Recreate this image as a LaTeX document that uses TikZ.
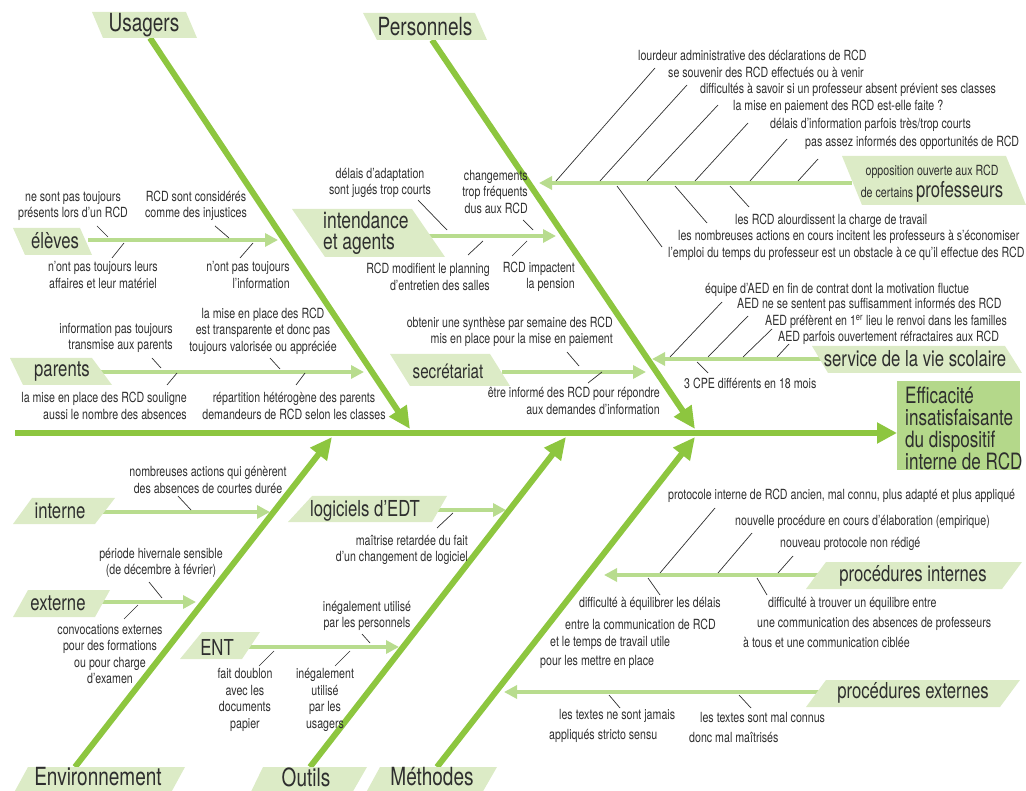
\documentclass[tikz,border=0pt]{standalone}
\usepackage{fontspec}
\setmainfont{TeX Gyre Heros}[FakeStretch=0.76]
\usetikzlibrary{arrows.meta}
\definecolor{bonegreen}{HTML}{8DC63F}
\definecolor{subgreen}{HTML}{B8DC8E}
\definecolor{tagfill}{HTML}{DCEBC6}
\definecolor{effectfill}{HTML}{B4D88A}
\definecolor{ink}{HTML}{2E2E2E}
\tikzset{
  spine/.style={draw=bonegreen, line width=6pt, -{Triangle[length=20pt,width=20pt]}},
  bone/.style={draw=bonegreen, line width=6pt, -{Triangle[length=22pt,width=20pt]}},
  subbone/.style={draw=subgreen, line width=4.5pt, -{Triangle[length=13pt,width=13pt]}},
  tick/.style={draw=ink, line width=0.7pt},
  tag/.style={fill=tagfill},
  small/.style={font=\fontsize{14}{16.5}\selectfont, text=ink, inner sep=0pt},
  cat/.style={font=\fontsize{22}{22}\selectfont, text=ink, inner sep=0pt},
  maincat/.style={font=\fontsize{25}{25}\selectfont, text=ink, inner sep=0pt},
  effecttext/.style={font=\fontsize{22.5}{22}\selectfont, text=ink, inner sep=0pt, align=left},
}
\begin{document}
\begin{tikzpicture}[x=1pt,y=-1pt]
\useasboundingbox (0,0) rectangle (1026,791);
\clip (0,0) rectangle (1026,791);

% ---------- effect and spine ----------
\fill[effectfill] (897,381) rectangle (1020,470);
\node[effecttext, anchor=west] (effect) at (905,428) {Efficacité\\insatisfaisante\\du dispositif\\interne de RCD};
\coordinate (spine-tail) at (15,433);
\coordinate (spine-head) at (897,433);
\draw[spine] (spine-tail) -- (spine-head);

% ---------- main bones ----------
\coordinate (usagers-root) at (150,38);     \coordinate (usagers-tip) at (410,429);
\coordinate (personnels-root) at (432,40);  \coordinate (personnels-tip) at (695,429);
\coordinate (env-root) at (75,767);         \coordinate (env-tip) at (332,437);
\coordinate (outils-root) at (310,767);     \coordinate (outils-tip) at (566,437);
\coordinate (methodes-root) at (437,767);   \coordinate (methodes-tip) at (695,437);
\draw[bone] (usagers-root) -- (usagers-tip);
\draw[bone] (personnels-root) -- (personnels-tip);
\draw[bone] (env-root) -- (env-tip);
\draw[bone] (outils-root) -- (outils-tip);
\draw[bone] (methodes-root) -- (methodes-tip);

% ---------- secondary bones ----------
\coordinate (eleves-root) at (88,240);     \coordinate (eleves-tip) at (278,240);
\coordinate (parents-root) at (100,372);   \coordinate (parents-tip) at (364,372);
\coordinate (intend-root) at (428,236);    \coordinate (intend-tip) at (556,236);
\coordinate (secr-root) at (502,372);      \coordinate (secr-tip) at (646,372);
\coordinate (prof-root) at (852,183);      \coordinate (prof-tip) at (539,183);
\coordinate (vie-root) at (822,359);       \coordinate (vie-tip) at (652,359);
\coordinate (interne-root) at (103,512);   \coordinate (interne-tip) at (270,512);
\coordinate (externe-root) at (98,602);    \coordinate (externe-tip) at (196,602);
\coordinate (edt-root) at (433,510);       \coordinate (edt-tip) at (506,510);
\coordinate (ent-root) at (247,647);       \coordinate (ent-tip) at (399,647);
\coordinate (pint-root) at (820,575);      \coordinate (pint-tip) at (604,575);
\coordinate (pext-root) at (820,692);      \coordinate (pext-tip) at (504,692);
\foreach \b in {eleves,parents,intend,secr,prof,vie,interne,externe,edt,ent,pint,pext}
  \draw[subbone] (\b-root) -- (\b-tip);

% ---------- category tags ----------
\fill[tag] (92,12) -- (186,12) -- (197,38) -- (103,38) -- cycle;
\fill[tag] (363,13) -- (475,13) -- (487,40) -- (377,40) -- cycle;
\fill[tag] (28,767) -- (185,767) -- (167,800) -- (10,800) -- cycle;
\fill[tag] (263,767) -- (367,767) -- (348,800) -- (247,800) -- cycle;
\fill[tag] (380,767) -- (497,767) -- (478,800) -- (362,800) -- cycle;
\fill[tag] (13,228) -- (80,228) -- (92,255) -- (25,255) -- cycle;
\fill[tag] (10,358) -- (92,358) -- (112,385) -- (23,385) -- cycle;
\fill[tag] (292,209) -- (412,209) -- (445,257) -- (325,257) -- cycle;
\fill[tag] (390,354) -- (490,354) -- (510,386) -- (410,386) -- cycle;
\fill[tag] (842,156) -- (1006,156) -- (1026,205) -- (862,205) -- cycle;
\fill[tag] (812,346) -- (1005,346) -- (1022,373) -- (828,373) -- cycle;
\fill[tag] (32,498) -- (115,498) -- (95,524) -- (13,524) -- cycle;
\fill[tag] (28,590) -- (110,590) -- (95,617) -- (13,617) -- cycle;
\fill[tag] (312,496) -- (447,496) -- (432,522) -- (288,522) -- cycle;
\fill[tag] (202,632) -- (260,632) -- (242,659) -- (180,659) -- cycle;
\fill[tag] (826,562) -- (1022,562) -- (1002,589) -- (806,589) -- cycle;
\fill[tag] (826,680) -- (1020,680) -- (1000,707) -- (806,707) -- cycle;

\node[maincat] (usagers) at (144,25) {Usagers};
\node[maincat] (personnels) at (425,27) {Personnels};
\node[maincat] (environnement) at (98,777) {Environnement};
\node[maincat] (outils) at (306,777) {Outils};
\node[maincat] (methodes) at (432,777) {Méthodes};
\node[cat] (eleves) at (55,241) {élèves};
\node[cat] (parents) at (62,372) {parents};
\node[cat, align=left, anchor=west, font=\fontsize{23}{21}\selectfont] (intendance) at (323,233) {intendance\\et agents};
\node[cat, font=\fontsize{20}{20}\selectfont] (secretariat) at (448,371) {secrétariat};
\node[small, anchor=base] (prof-a) at (932,176) {opposition ouverte aux RCD};
\node[small, anchor=base] (prof-b) at (932,198) {de certains {\fontsize{22}{22}\selectfont professeurs}};
\node[cat] (vie) at (915,359) {service de la vie scolaire};
\node[cat] (interne) at (60,511) {interne};
\node[cat] (externe) at (58,603) {externe};
\node[cat] (edt) at (365,511) {logiciels d'EDT};
\node[cat] (ent) at (217,647) {ENT};
\node[cat] (pint) at (913,576) {procédures internes};
\node[cat] (pext) at (913,693) {procédures externes};

% ---------- Usagers: élèves ----------
\node[small, align=center] (el1) at (73,206) {ne sont pas toujours\\présents lors d’un RCD};
\node[small, align=center] (el2) at (196,206) {RCD sont considérés\\comme des injustices};
\node[small, align=center] (el3) at (103,275) {n'ont pas toujours leurs\\affaires et leur matériel};
\node[small, align=right, anchor=east] (el4) at (290,275) {n'ont pas toujours\\l’information};
\draw[tick] (97,226) -- (108,237);
\draw[tick] (215,226) -- (229,238);
\draw[tick] (112,258) -- (124,243);
\draw[tick] (240,258) -- (253,243);

% ---------- Usagers: parents ----------
\node[small, align=right, anchor=east] (pa1) at (173,338) {information pas toujours\\transmise aux parents};
\node[small, align=center] (pa2) at (263,331) {la mise en place des RCD\\est transparente et donc pas\\toujours valorisée ou appréciée};
\node[small, align=right, anchor=east] (pa3) at (187,406) {la mise en place des RCD souligne\\aussi le nombre des absences};
\node[small, align=center] (pa4) at (294,406) {répartition hétérogène des parents\\demandeurs de RCD selon les classes};
\draw[tick] (152,358) -- (161,368);
\draw[tick] (270,358) -- (280,369);
\draw[tick] (167,385) -- (177,373);
\draw[tick] (296,385) -- (305,373);

% ---------- Personnels: intendance et agents ----------
\node[small, align=center] (in1) at (380,183) {délais d’adaptation\\sont jugés trop courts};
\node[small, align=right, anchor=east] (in2) at (528,192) {changements\\trop fréquents\\dus aux RCD};
\node[small, align=right, anchor=east] (in3) at (490,277) {RCD modifient le planning\\d’entretien des salles};
\node[small, align=right, anchor=east] (in4) at (575,277) {RCD impactent\\la pension};
\draw[tick] (418,200) -- (447,230);
\draw[tick] (523,220) -- (533,230);
\draw[tick] (468,255) -- (483,241);
\draw[tick] (512,256) -- (527,241);

% ---------- Personnels: secrétariat ----------
\node[small, align=right, anchor=east] (se1) at (613,332) {obtenir une synthèse par semaine des RCD\\mis en place pour la mise en paiement};
\node[small, align=right, anchor=east] (se2) at (660,401) {être informé des RCD pour répondre\\aux demandes d’information};
\draw[tick] (567,352) -- (579,366);
\draw[tick] (588,383) -- (602,372);

% ---------- Personnels: professeurs ----------
\node[small, anchor=west] (pr1) at (638,55) {lourdeur administrative des déclarations de RCD};
\node[small, anchor=west] (pr2) at (668,72) {se souvenir des RCD effectués ou à venir};
\node[small, anchor=west] (pr3) at (700,90) {difficultés à savoir si un professeur absent prévient ses classes};
\node[small, anchor=west] (pr4) at (733,107) {la mise en paiement des RCD est-elle faite ?};
\node[small, anchor=west] (pr5) at (770,125) {délais d’information parfois très/trop courts};
\node[small, anchor=west] (pr6) at (805,143) {pas assez informés des opportunités de RCD};
\node[small, anchor=west] (pr7) at (735,221) {les RCD alourdissent la charge de travail};
\node[small, anchor=west] (pr8) at (678,237) {les nombreuses actions en cours incitent les professeurs à s’économiser};
\node[small, anchor=west] (pr9) at (668,254) {l’emploi du temps du professeur est un obstacle à ce qu’il effectue des RCD};
\draw[tick] (556,181) -- (655,68);
\draw[tick] (600,181) -- (687,85);
\draw[tick] (647,181) -- (718,105);
\draw[tick] (695,181) -- (748,123);
\draw[tick] (750,181) -- (787,139);
\draw[tick] (798,181) -- (818,159);
\draw[tick] (617,186) -- (662,247);
\draw[tick] (675,186) -- (707,223);
\draw[tick] (730,186) -- (749,207);

% ---------- Personnels: vie scolaire ----------
\node[small, anchor=west] (vs1) at (705,290) {équipe d’AED en fin de contrat dont la motivation fluctue};
\node[small, anchor=west] (vs2) at (737,305) {AED ne se sentent pas suffisamment informés des RCD};
\node[small, anchor=west] (vs3) at (765,322) {AED préfèrent en 1\textsuperscript{er} lieu le renvoi dans les familles};
\node[small, anchor=west] (vs4) at (778,338) {AED parfois ouvertement réfractaires aux RCD};
\node[small, anchor=west] (vs5) at (684,383) {3 CPE différents en 18 mois};
\draw[tick] (670,357) -- (722,302);
\draw[tick] (708,357) -- (748,316);
\draw[tick] (743,357) -- (772,329);
\draw[tick] (777,357) -- (789,344);
\draw[tick] (697,362) -- (708,373);

% ---------- Environnement ----------
\node[small, align=center] (en1) at (208,480) {nombreuses actions qui génèrent\\des absences de courtes durée};
\draw[tick] (178,496) -- (191,510);
\node[small, align=center] (en2) at (161,563) {période hivernale sensible\\(de décembre à février)};
\draw[tick] (149,582) -- (162,598);
\node[small, align=center] (en3) at (110,654) {convocations externes\\pour des formations\\ou pour charge\\d’examen};
\draw[tick] (138,605) -- (124,619);

% ---------- Outils ----------
\node[small, align=right, anchor=east] (ou1) at (468,550) {maîtrise retardée du fait\\d’un changement de logiciel};
\draw[tick] (453,513) -- (437,528);
\node[small, align=center] (ou2) at (367,616) {inégalement utilisé\\par les personnels};
\draw[tick] (362,634) -- (370,643);
\node[small, align=center] (ou3) at (245,700) {fait doublon\\avec les\\documents\\papier};
\draw[tick] (274,651) -- (259,666);
\node[small, align=center] (ou4) at (325,700) {inégalement\\utilisé\\par les\\usagers};
\draw[tick] (350,651) -- (335,666);

% ---------- Méthodes: procédures internes ----------
\node[small, anchor=west] (mi1) at (668,496) {protocole interne de RCD ancien, mal connu, plus adapté et plus appliqué};
\node[small, anchor=west] (mi2) at (735,522) {nouvelle procédure en cours d’élaboration (empirique)};
\node[small, anchor=west] (mi3) at (780,544) {nouveau protocole non rédigé};
\node[small, anchor=west] (mi4) at (579,604) {difficulté à équilibrer les délais};
\node[small, anchor=west] (mi5) at (565,624) {entre la communication de RCD};
\node[small, anchor=west] (mi6) at (550,643) {et le temps de travail utile};
\node[small, anchor=west] (mi7) at (540,662) {pour les mettre en place};
\node[small, anchor=west] (mi8) at (768,604) {difficulté à trouver un équilibre entre};
\node[small, anchor=west] (mi9) at (757,624) {une communication des absences de professeurs};
\node[small, anchor=west] (mi10) at (743,643) {à tous et une communication ciblée};
\draw[tick] (660,573) -- (715,508);
\draw[tick] (718,573) -- (752,533);
\draw[tick] (778,573) -- (793,556);
\draw[tick] (648,578) -- (660,595);
\draw[tick] (757,578) -- (767,595);

% ---------- Méthodes: procédures externes ----------
\node[small, anchor=west] (me1) at (559,716) {les textes ne sont jamais};
\node[small, anchor=west] (me2) at (549,736) {appliqués stricto sensu};
\node[small, anchor=west] (me3) at (700,717) {les textes sont mal connus};
\node[small, anchor=west] (me4) at (689,737) {donc mal maîtrisés};
\draw[tick] (609,695) -- (620,708);
\draw[tick] (739,695) -- (751,708);
\end{tikzpicture}
\end{document}
